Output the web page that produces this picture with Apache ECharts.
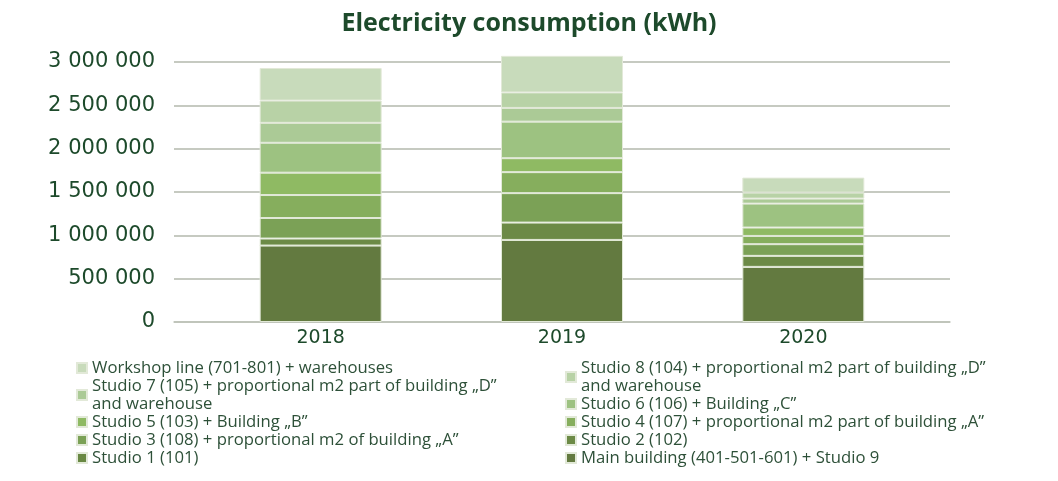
<!DOCTYPE html>
<html>
<head>
<meta charset="utf-8">
<script src="https://cdn.jsdelivr.net/npm/echarts@6/dist/echarts.min.js"></script>
<style>
  html, body { margin: 0; padding: 0; background: #fff; }
  #chart { width: 1058px; height: 481px; }
</style>
</head>
<body>
<div id="chart"></div>
<script>
// years on the x axis
const years = ['2018', '2019', '2020']
const yTicks = [0, 500000, 1000000, 1500000, 2000000, 2500000, 3000000]

// values in kWh, bottom of the stack first
const mainBuilding = [882000, 947000, 636000]
const studio1 = [0, 0, 0]
const studio2 = [81000, 200000, 127000]
const studio3 = [237000, 340000, 135000]
const studio4 = [265000, 242000, 95000]
const studio5 = [258000, 161000, 97000]
const studio6 = [345000, 422000, 276000]
const studio7 = [230000, 158000, 58000]
const studio8 = [257000, 179000, 69000]
const workshop = [376000, 422000, 173000]

const names = {
  main: 'Main building (401-501-601) + Studio 9',
  s1: 'Studio 1 (101)',
  s2: 'Studio 2 (102)',
  s3: 'Studio 3 (108) + proportional m2 of building „A”',
  s4: 'Studio 4 (107) + proportional m2 part of building „A”',
  s5: 'Studio 5 (103) + Building „B”',
  s6: 'Studio 6 (106) + Building „C”',
  s7: 'Studio 7 (105) + proportional m2 part of building „D” and warehouse',
  s8: 'Studio 8 (104) + proportional m2 part of building „D” and warehouse',
  ws: 'Workshop line (701-801) + warehouses'
}

const green = '#1d4a2b'
const textFont = 'Open Sans'
const numFont = 'DejaVu Sans'

// the plot: 0 sits at y=322, 3 000 000 at y=62
const plotBottom = 159
const yMax = yTicks[yTicks.length - 1]
const barMax = 3100000
const barTop = 62 - (barMax - yMax) / yMax * 260

function bar(name, values, color) {
  return {
    name: name,
    type: 'bar',
    stack: 'total',
    xAxisIndex: 1,
    yAxisIndex: 1,
    barWidth: 122,
    data: values,
    itemStyle: { color: color, borderColor: '#e2e9d8', borderWidth: 1 }
  }
}

function legendBox(left, items) {
  return {
    orient: 'vertical',
    left: left,
    top: 354,
    itemGap: 0,
    itemWidth: 10,
    itemHeight: 10,
    icon: 'rect',
    data: items,
    formatter: function (n) { return n.replace(' and warehouse', '\nand warehouse') },
    textStyle: { fontFamily: textFont, fontSize: 16.7, color: '#2d5038', lineHeight: 18 }
  }
}

const chart = echarts.init(document.getElementById('chart'))
chart.setOption({
  animation: false,
  title: {
    text: 'Electricity consumption (kWh)',
    left: 'center',
    top: 6,
    textStyle: { fontFamily: textFont, fontSize: 25, fontWeight: 'bold', color: green }
  },
  legend: [
    legendBox(71, [names.ws, names.s7, names.s5, names.s3, names.s1]),
    legendBox(560, [names.s8, names.s6, names.s4, names.s2, names.main])
  ],
  grid: [
    { left: 174, right: 108, top: 62, bottom: plotBottom },
    { left: 200, right: 134, top: barTop, bottom: plotBottom }
  ],
  xAxis: [
    {
      type: 'category', gridIndex: 0, data: years,
      axisLine: { lineStyle: { color: '#bfc3b9', width: 1.5 } },
      axisTick: { show: false }, axisLabel: { show: false }
    },
    {
      type: 'category', gridIndex: 1, data: years,
      axisLine: { show: false }, axisTick: { show: false },
      axisLabel: { margin: 7, fontFamily: numFont, fontSize: 19, color: green }
    }
  ],
  yAxis: [
    {
      type: 'value', gridIndex: 0,
      min: yTicks[0], max: yMax, interval: yTicks[1] - yTicks[0],
      axisLine: { show: false }, axisTick: { show: false },
      splitLine: { lineStyle: { color: '#b3b8ac', width: 1.5 } },
      axisLabel: {
        margin: 19, fontFamily: numFont, fontSize: 21, color: green,
        formatter: function (v) { return String(v).replace(/\B(?=(\d{3})+(?!\d))/g, ' ') }
      }
    },
    {
      type: 'value', gridIndex: 1,
      min: 0, max: barMax,
      show: false, splitLine: { show: false }
    }
  ],
  series: [
    bar(names.main, mainBuilding, '#637a40'),
    bar(names.s1, studio1, '#698843'),
    bar(names.s2, studio2, '#6c8a46'),
    bar(names.s3, studio3, '#7ba156'),
    bar(names.s4, studio4, '#86ae5d'),
    bar(names.s5, studio5, '#8fba63'),
    bar(names.s6, studio6, '#9dc281'),
    bar(names.s7, studio7, '#abca96'),
    bar(names.s8, studio8, '#b8d2a6'),
    bar(names.ws, workshop, '#c8dbbb')
  ]
})
</script>
</body>
</html>
